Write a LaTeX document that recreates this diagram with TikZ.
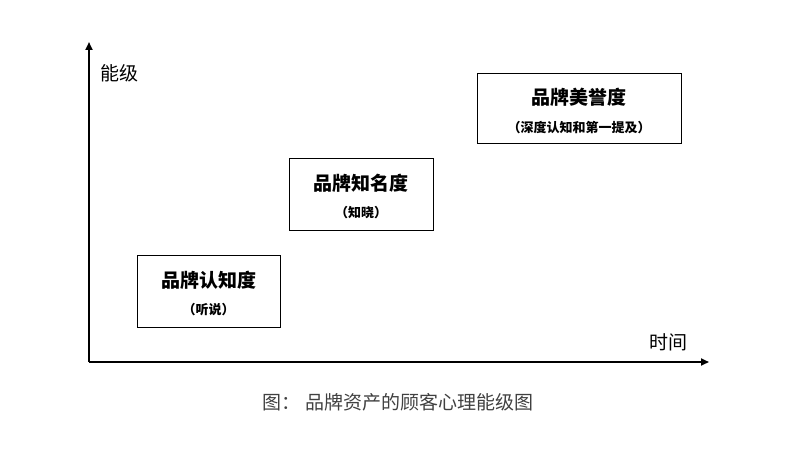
\documentclass[tikz,border=0pt]{standalone}
\usepackage{fontspec}
\setmainfont{Noto Sans CJK SC}
\usetikzlibrary{arrows.meta}
\begin{document}
\begin{tikzpicture}[x=1pt,y=-1pt,
  ax/.style={line width=2.2pt,-{Triangle[length=8pt,width=7pt]}},
  bx/.style={draw,line width=0.8pt},
  ttl/.style={font=\fontsize{19}{22}\selectfont\bfseries},
  sub/.style={font=\fontsize{13}{16}\selectfont\bfseries}]
\useasboundingbox (0,0) rectangle (791,449);
\coordinate (o) at (89,362);
\coordinate (yt) at (89,42);
\coordinate (xt) at (709,362);
\draw[ax] (o) -- (yt);
\draw[ax] (o) -- (xt);
\node[font=\fontsize{19}{22}\selectfont] (yl) at (119,73) {能级};
\node[font=\fontsize{19}{22}\selectfont] (xl) at (668,342) {时间};
\draw[bx] (137,255) rectangle (280,327);
\node[ttl] (a1) at (208.5,280) {品牌认知度};
\node[sub] (a2) at (208.5,310) {（听说）};
\draw[bx] (289,158) rectangle (433,230);
\node[ttl] (b1) at (361,183) {品牌知名度};
\node[sub] (b2) at (361,213) {（知晓）};
\draw[bx] (477,73) rectangle (681,143);
\node[ttl] (c1) at (579,97) {品牌美誉度};
\node[sub] (c2) at (579,128) {（深度认知和第一提及）};
\node[font=\fontsize{19}{22}\selectfont,text=black!75] (cap) at (398,402) {图：\ 品牌资产的顾客心理能级图};
\end{tikzpicture}
\end{document}
